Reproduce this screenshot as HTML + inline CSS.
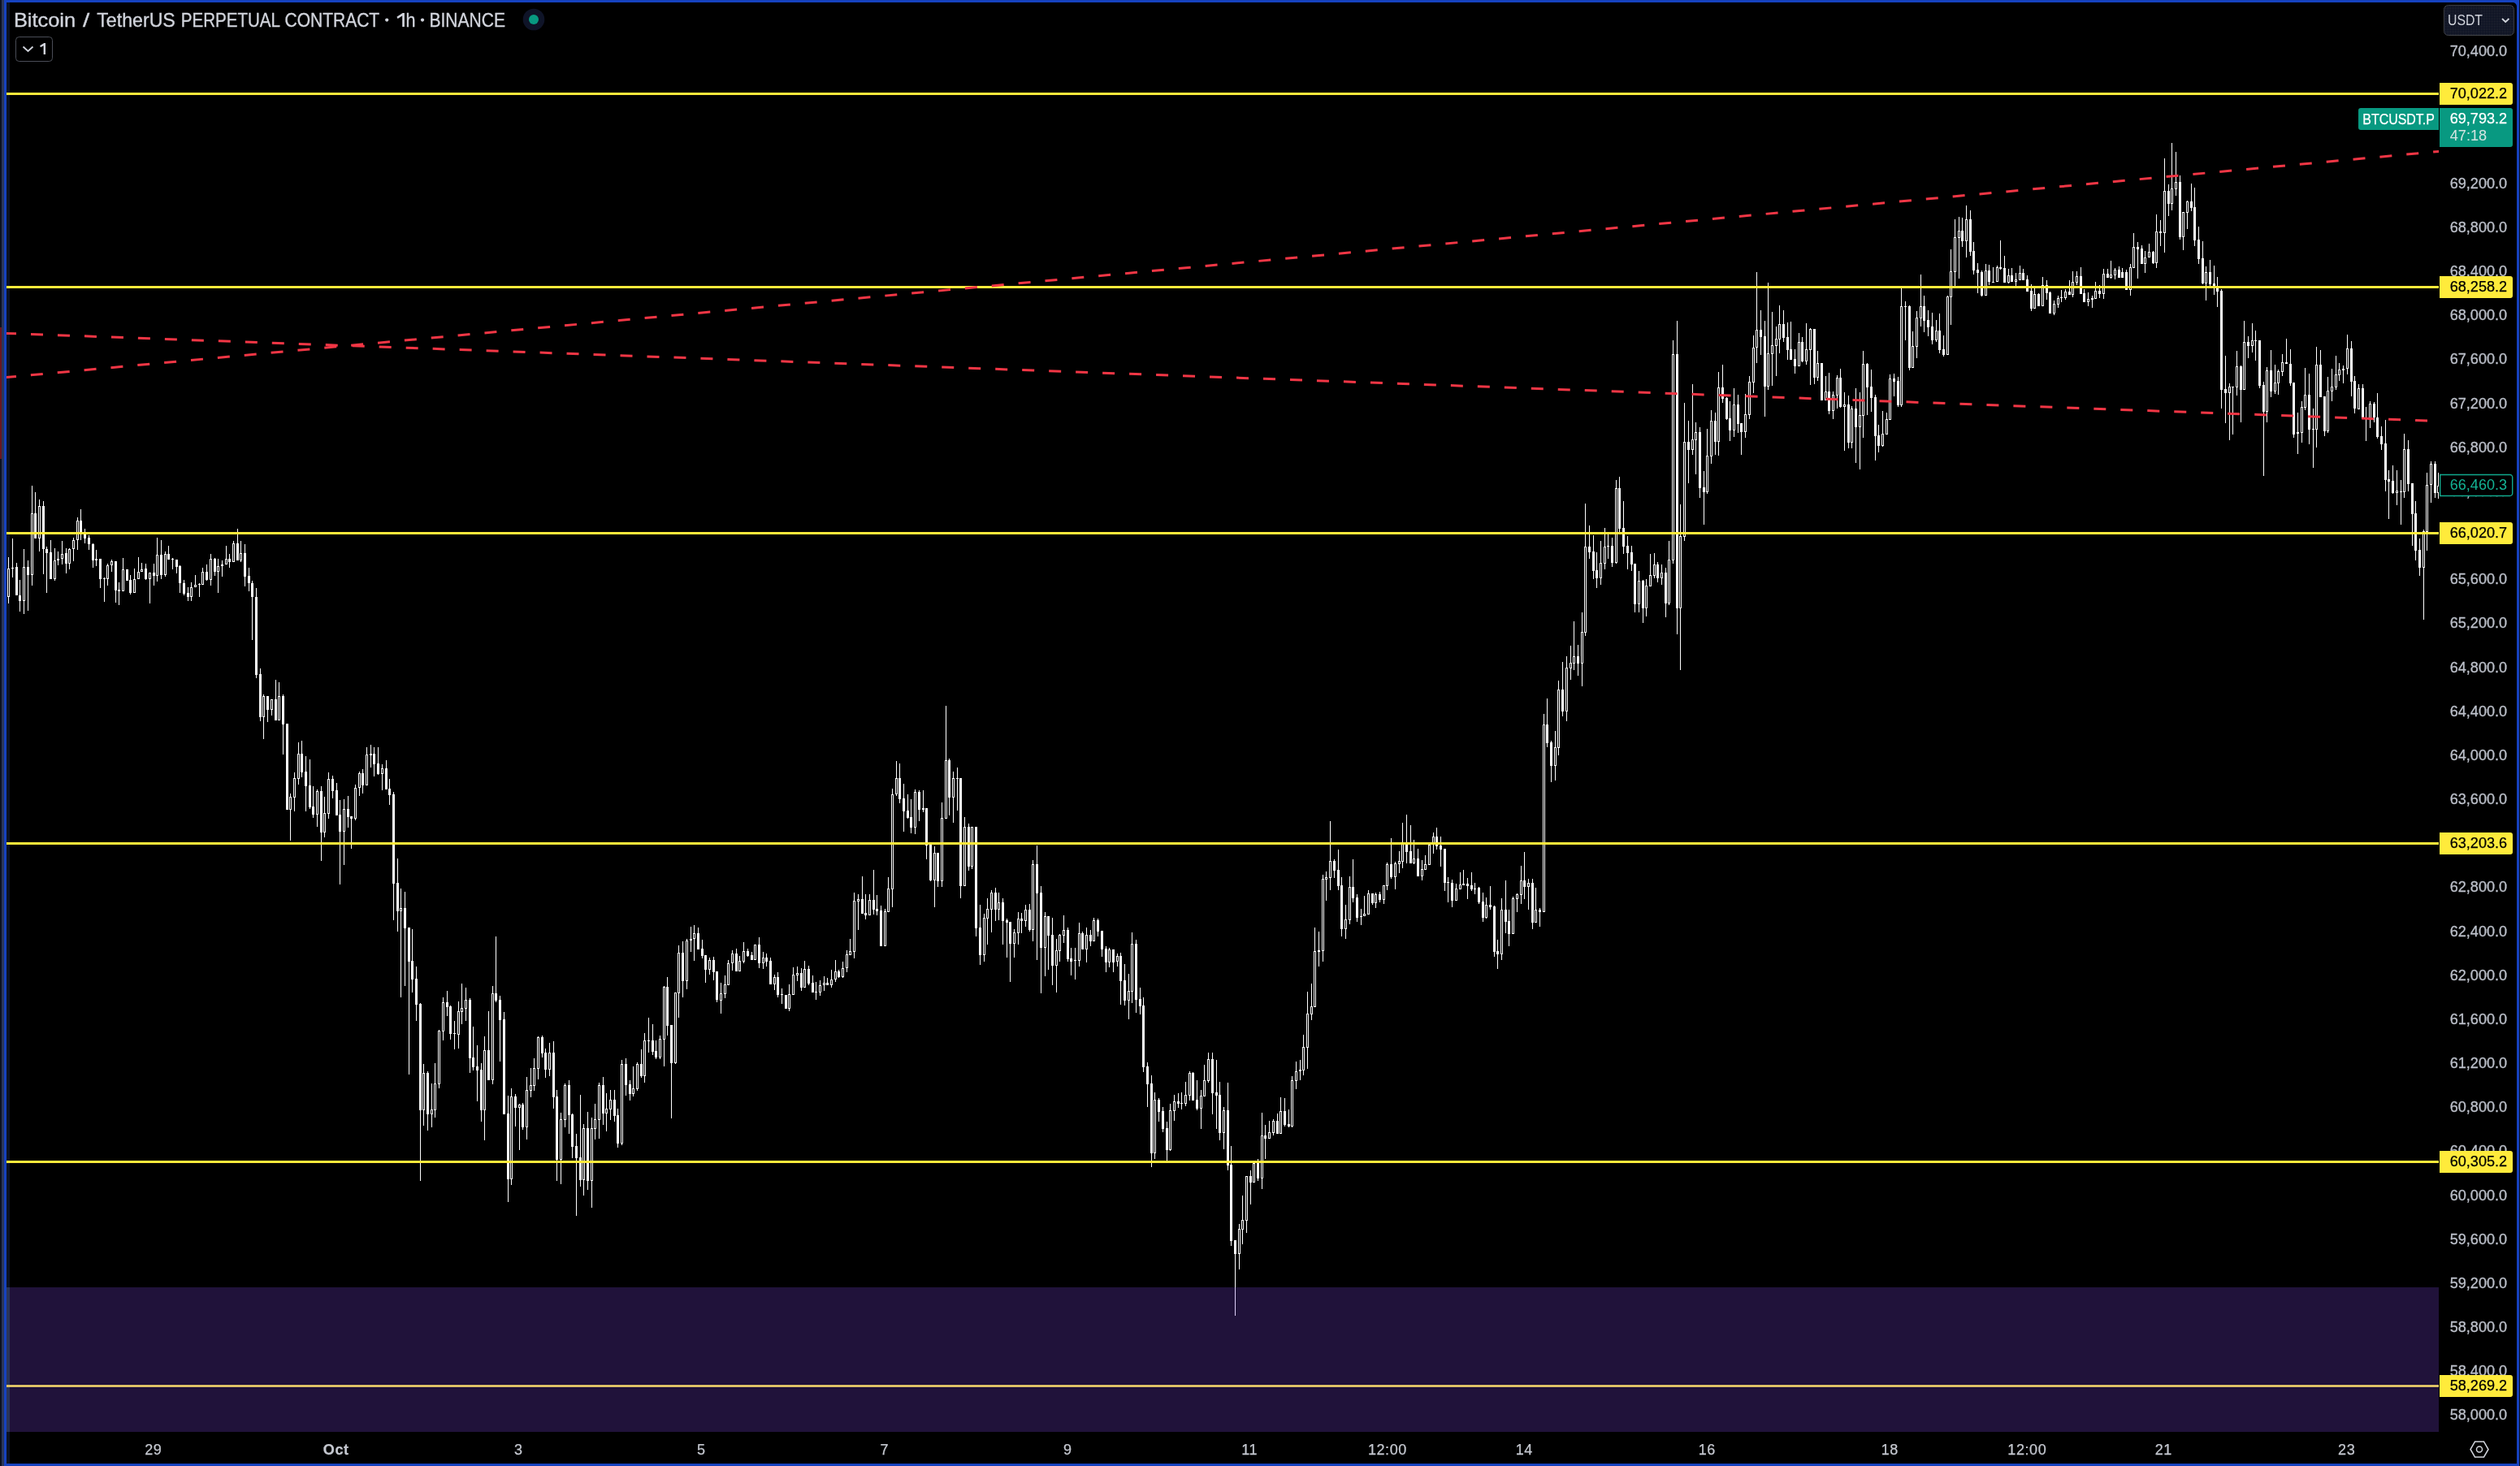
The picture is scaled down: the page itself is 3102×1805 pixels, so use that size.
<!DOCTYPE html><html><head><meta charset="utf-8"><title>BTCUSDT.P</title><style>html,body{margin:0;padding:0;background:#000}body{width:3102px;height:1805px;position:relative;overflow:hidden;font-family:"Liberation Sans",sans-serif}</style></head><body><svg width="3102" height="1805" viewBox="0 0 3102 1805" style="position:absolute;left:0;top:0;will-change:transform" font-family="Liberation Sans, sans-serif"><rect x="8" y="3" width="4" height="1799" fill="#0c1221" shape-rendering="crispEdges"/><g shape-rendering="crispEdges" clip-path="url(#cp)"><path d="M10 686h1v57h-1zM15 663h1v48h-1zM20 693h1v40h-1zM24 714h1v39h-1zM29 676h1v80h-1zM34 690h1v62h-1zM39 598h1v123h-1zM43 606h1v57h-1zM48 615h1v64h-1zM53 617h1v90h-1zM57 673h1v57h-1zM62 665h1v48h-1zM67 675h1v40h-1zM71 679h1v17h-1zM76 666h1v29h-1zM81 675h1v31h-1zM85 675h1v26h-1zM90 662h1v29h-1zM95 637h1v40h-1zM99 627h1v38h-1zM104 651h1v18h-1zM109 659h1v18h-1zM114 669h1v30h-1zM118 677h1v20h-1zM123 688h1v36h-1zM128 711h1v30h-1zM132 694h1v27h-1zM137 689h1v15h-1zM142 691h1v51h-1zM146 717h1v28h-1zM151 687h1v41h-1zM156 701h1v14h-1zM160 708h1v24h-1zM165 700h1v30h-1zM170 686h1v27h-1zM174 693h1v11h-1zM179 694h1v20h-1zM184 705h1v38h-1zM189 694h1v27h-1zM193 662h1v54h-1zM198 665h1v48h-1zM203 679h1v31h-1zM207 672h1v17h-1zM212 687h1v14h-1zM217 689h1v17h-1zM221 696h1v34h-1zM226 714h1v19h-1zM231 723h1v17h-1zM235 717h1v23h-1zM240 708h1v15h-1zM245 718h1v17h-1zM249 699h1v21h-1zM254 695h1v20h-1zM259 682h1v39h-1zM264 687h1v22h-1zM268 688h1v42h-1zM273 690h1v20h-1zM278 672h1v23h-1zM282 682h1v17h-1zM287 666h1v26h-1zM292 651h1v39h-1zM296 666h1v26h-1zM301 670h1v52h-1zM306 699h1v29h-1zM310 715h1v73h-1zM315 724h1v111h-1zM320 823h1v65h-1zM324 855h1v55h-1zM329 857h1v32h-1zM334 861h1v20h-1zM339 837h1v50h-1zM343 840h1v47h-1zM348 855h1v74h-1zM353 891h1v106h-1zM357 977h1v58h-1zM362 951h1v48h-1zM367 914h1v52h-1zM371 912h1v45h-1zM376 931h1v68h-1zM381 935h1v61h-1zM385 968h1v39h-1zM390 972h1v46h-1zM395 968h1v92h-1zM399 981h1v50h-1zM404 951h1v57h-1zM409 955h1v28h-1zM414 964h1v40h-1zM418 985h1v104h-1zM423 984h1v81h-1zM428 980h1v39h-1zM432 1005h1v40h-1zM437 966h1v44h-1zM442 950h1v30h-1zM446 947h1v30h-1zM451 920h1v47h-1zM456 917h1v28h-1zM460 920h1v36h-1zM465 920h1v34h-1zM470 941h1v32h-1zM475 936h1v36h-1zM479 959h1v32h-1zM484 975h1v158h-1zM489 1057h1v90h-1zM493 1094h1v134h-1zM498 1098h1v116h-1zM503 1142h1v181h-1zM507 1144h1v78h-1zM512 1190h1v67h-1zM517 1235h1v219h-1zM521 1310h1v76h-1zM526 1319h1v73h-1zM531 1334h1v54h-1zM535 1309h1v67h-1zM540 1268h1v72h-1zM545 1228h1v53h-1zM550 1220h1v31h-1zM554 1238h1v42h-1zM559 1257h1v35h-1zM564 1233h1v58h-1zM568 1211h1v50h-1zM573 1216h1v41h-1zM578 1229h1v92h-1zM582 1264h1v54h-1zM587 1287h1v69h-1zM592 1309h1v72h-1zM596 1276h1v128h-1zM601 1245h1v85h-1zM606 1214h1v121h-1zM610 1153h1v81h-1zM615 1226h1v81h-1zM620 1246h1v126h-1zM625 1349h1v131h-1zM629 1340h1v119h-1zM634 1347h1v40h-1zM639 1359h1v57h-1zM643 1358h1v33h-1zM648 1326h1v77h-1zM653 1315h1v36h-1zM657 1303h1v40h-1zM662 1276h1v53h-1zM667 1275h1v27h-1zM671 1291h1v36h-1zM676 1284h1v41h-1zM681 1282h1v83h-1zM685 1342h1v112h-1zM690 1370h1v88h-1zM695 1334h1v54h-1zM700 1330h1v66h-1zM704 1371h1v55h-1zM709 1396h1v101h-1zM714 1348h1v113h-1zM718 1384h1v88h-1zM723 1369h1v96h-1zM728 1376h1v111h-1zM732 1359h1v44h-1zM737 1333h1v69h-1zM742 1326h1v59h-1zM746 1346h1v47h-1zM751 1342h1v37h-1zM756 1342h1v39h-1zM760 1365h1v48h-1zM765 1305h1v105h-1zM770 1303h1v46h-1zM775 1330h1v25h-1zM779 1313h1v37h-1zM784 1308h1v35h-1zM789 1292h1v35h-1zM793 1272h1v61h-1zM798 1253h1v43h-1zM803 1261h1v38h-1zM807 1281h1v23h-1zM812 1275h1v29h-1zM817 1214h1v99h-1zM821 1203h1v72h-1zM826 1262h1v115h-1zM831 1222h1v88h-1zM835 1164h1v89h-1zM840 1159h1v69h-1zM845 1156h1v62h-1zM850 1141h1v31h-1zM854 1139h1v44h-1zM859 1142h1v27h-1zM864 1157h1v23h-1zM868 1176h1v34h-1zM873 1179h1v21h-1zM878 1178h1v29h-1zM882 1196h1v38h-1zM887 1210h1v38h-1zM892 1201h1v28h-1zM896 1182h1v31h-1zM901 1170h1v25h-1zM906 1168h1v28h-1zM910 1177h1v19h-1zM915 1160h1v26h-1zM920 1168h1v10h-1zM925 1172h1v10h-1zM929 1163h1v19h-1zM934 1154h1v38h-1zM939 1172h1v21h-1zM943 1174h1v16h-1zM948 1179h1v33h-1zM953 1200h1v19h-1zM957 1197h1v31h-1zM962 1217h1v19h-1zM967 1225h1v17h-1zM971 1212h1v33h-1zM976 1191h1v34h-1zM981 1190h1v18h-1zM986 1192h1v28h-1zM990 1183h1v33h-1zM995 1189h1v24h-1zM1000 1201h1v21h-1zM1004 1209h1v22h-1zM1009 1207h1v19h-1zM1014 1202h1v18h-1zM1018 1204h1v9h-1zM1023 1194h1v22h-1zM1028 1182h1v27h-1zM1032 1194h1v10h-1zM1037 1184h1v20h-1zM1042 1170h1v27h-1zM1046 1156h1v20h-1zM1051 1099h1v81h-1zM1056 1101h1v44h-1zM1061 1079h1v46h-1zM1065 1101h1v31h-1zM1070 1101h1v26h-1zM1075 1071h1v55h-1zM1079 1102h1v25h-1zM1084 1115h1v50h-1zM1089 1119h1v46h-1zM1093 1080h1v43h-1zM1098 971h1v146h-1zM1103 937h1v43h-1zM1107 940h1v49h-1zM1112 965h1v59h-1zM1117 978h1v30h-1zM1121 984h1v42h-1zM1126 972h1v55h-1zM1131 973h1v38h-1zM1136 973h1v27h-1zM1140 995h1v63h-1zM1145 1040h1v45h-1zM1150 1042h1v75h-1zM1154 1050h1v42h-1zM1159 988h1v104h-1zM1164 869h1v139h-1zM1168 934h1v70h-1zM1173 950h1v63h-1zM1178 945h1v53h-1zM1182 958h1v148h-1zM1187 1006h1v85h-1zM1192 1014h1v58h-1zM1196 1018h1v52h-1zM1201 1018h1v135h-1zM1206 1114h1v74h-1zM1211 1125h1v59h-1zM1215 1106h1v57h-1zM1220 1096h1v52h-1zM1225 1093h1v41h-1zM1229 1099h1v34h-1zM1234 1106h1v57h-1zM1239 1131h1v48h-1zM1243 1135h1v74h-1zM1248 1144h1v35h-1zM1253 1123h1v40h-1zM1257 1124h1v25h-1zM1262 1114h1v27h-1zM1267 1113h1v34h-1zM1271 1059h1v100h-1zM1276 1041h1v141h-1zM1281 1091h1v132h-1zM1286 1123h1v79h-1zM1290 1128h1v66h-1zM1295 1130h1v83h-1zM1300 1156h1v66h-1zM1304 1150h1v34h-1zM1309 1127h1v34h-1zM1314 1142h1v42h-1zM1318 1167h1v34h-1zM1323 1167h1v39h-1zM1328 1136h1v54h-1zM1332 1147h1v22h-1zM1337 1142h1v43h-1zM1342 1145h1v20h-1zM1346 1130h1v29h-1zM1351 1131h1v22h-1zM1356 1146h1v32h-1zM1361 1165h1v32h-1zM1365 1167h1v24h-1zM1370 1169h1v28h-1zM1375 1174h1v16h-1zM1379 1173h1v64h-1zM1384 1187h1v51h-1zM1389 1199h1v56h-1zM1393 1148h1v87h-1zM1398 1157h1v90h-1zM1403 1216h1v33h-1zM1407 1228h1v92h-1zM1412 1308h1v55h-1zM1417 1324h1v113h-1zM1421 1345h1v82h-1zM1426 1352h1v29h-1zM1431 1363h1v31h-1zM1436 1381h1v48h-1zM1440 1359h1v58h-1zM1445 1348h1v32h-1zM1450 1346h1v18h-1zM1454 1345h1v21h-1zM1459 1332h1v30h-1zM1464 1319h1v36h-1zM1468 1320h1v35h-1zM1473 1330h1v37h-1zM1478 1342h1v48h-1zM1482 1311h1v39h-1zM1487 1296h1v37h-1zM1492 1296h1v76h-1zM1497 1305h1v85h-1zM1501 1332h1v72h-1zM1506 1363h1v52h-1zM1511 1333h1v108h-1zM1515 1411h1v123h-1zM1520 1527h1v93h-1zM1525 1507h1v56h-1zM1529 1472h1v60h-1zM1534 1448h1v70h-1zM1539 1441h1v42h-1zM1543 1432h1v24h-1zM1548 1427h1v27h-1zM1553 1370h1v94h-1zM1557 1385h1v42h-1zM1562 1380h1v22h-1zM1567 1378h1v20h-1zM1572 1371h1v25h-1zM1576 1351h1v45h-1zM1581 1352h1v35h-1zM1586 1366h1v22h-1zM1590 1325h1v63h-1zM1595 1307h1v34h-1zM1600 1305h1v25h-1zM1604 1274h1v50h-1zM1609 1221h1v95h-1zM1614 1211h1v45h-1zM1618 1142h1v98h-1zM1623 1147h1v43h-1zM1628 1077h1v107h-1zM1632 1073h1v36h-1zM1637 1011h1v85h-1zM1642 1058h1v23h-1zM1647 1046h1v50h-1zM1651 1080h1v73h-1zM1656 1114h1v42h-1zM1661 1079h1v59h-1zM1665 1058h1v53h-1zM1670 1101h1v34h-1zM1675 1119h1v20h-1zM1679 1103h1v25h-1zM1684 1096h1v30h-1zM1689 1100h1v14h-1zM1693 1099h1v19h-1zM1698 1098h1v13h-1zM1703 1090h1v23h-1zM1707 1062h1v34h-1zM1712 1032h1v50h-1zM1717 1061h1v34h-1zM1722 1048h1v27h-1zM1726 1013h1v56h-1zM1731 1003h1v60h-1zM1736 1016h1v47h-1zM1740 1034h1v30h-1zM1745 1045h1v34h-1zM1750 1059h1v25h-1zM1754 1053h1v18h-1zM1759 1040h1v25h-1zM1764 1025h1v26h-1zM1768 1019h1v27h-1zM1773 1030h1v37h-1zM1778 1045h1v52h-1zM1782 1080h1v31h-1zM1787 1083h1v34h-1zM1792 1088h1v21h-1zM1797 1074h1v21h-1zM1801 1071h1v19h-1zM1806 1081h1v26h-1zM1811 1074h1v23h-1zM1815 1087h1v14h-1zM1820 1092h1v21h-1zM1825 1099h1v36h-1zM1829 1105h1v26h-1zM1834 1091h1v29h-1zM1839 1115h1v63h-1zM1843 1157h1v36h-1zM1848 1106h1v76h-1zM1853 1084h1v65h-1zM1857 1120h1v45h-1zM1862 1104h1v46h-1zM1867 1100h1v23h-1zM1872 1066h1v47h-1zM1876 1049h1v58h-1zM1881 1082h1v38h-1zM1886 1082h1v62h-1zM1890 1093h1v43h-1zM1895 1118h1v23h-1zM1900 879h1v244h-1zM1904 860h1v60h-1zM1909 912h1v51h-1zM1914 900h1v61h-1zM1918 838h1v92h-1zM1923 815h1v67h-1zM1928 808h1v80h-1zM1933 795h1v42h-1zM1937 765h1v60h-1zM1942 794h1v38h-1zM1947 754h1v91h-1zM1951 620h1v163h-1zM1956 647h1v41h-1zM1961 659h1v54h-1zM1965 680h1v44h-1zM1970 666h1v54h-1zM1975 650h1v51h-1zM1979 658h1v30h-1zM1984 662h1v36h-1zM1989 591h1v103h-1zM1993 587h1v68h-1zM1998 617h1v65h-1zM2003 660h1v41h-1zM2008 672h1v31h-1zM2012 694h1v60h-1zM2017 703h1v51h-1zM2022 714h1v53h-1zM2026 713h1v46h-1zM2031 682h1v40h-1zM2036 681h1v31h-1zM2040 692h1v25h-1zM2045 695h1v25h-1zM2050 699h1v61h-1zM2054 666h1v79h-1zM2059 419h1v275h-1zM2064 395h1v386h-1zM2068 621h1v204h-1zM2073 496h1v170h-1zM2078 518h1v77h-1zM2083 473h1v87h-1zM2087 520h1v64h-1zM2092 526h1v87h-1zM2097 580h1v66h-1zM2101 528h1v80h-1zM2106 505h1v66h-1zM2111 508h1v52h-1zM2115 458h1v103h-1zM2120 449h1v47h-1zM2125 489h1v28h-1zM2129 494h1v49h-1zM2134 478h1v60h-1zM2139 486h1v47h-1zM2143 521h1v39h-1zM2148 485h1v54h-1zM2153 463h1v53h-1zM2158 413h1v71h-1zM2162 335h1v112h-1zM2167 382h1v55h-1zM2172 395h1v118h-1zM2176 348h1v132h-1zM2181 384h1v91h-1zM2186 402h1v61h-1zM2190 376h1v59h-1zM2195 382h1v39h-1zM2200 397h1v46h-1zM2204 396h1v47h-1zM2209 430h1v30h-1zM2214 410h1v41h-1zM2218 415h1v31h-1zM2223 398h1v51h-1zM2228 404h1v70h-1zM2233 405h1v68h-1zM2237 432h1v37h-1zM2242 447h1v46h-1zM2247 463h1v30h-1zM2251 459h1v51h-1zM2256 482h1v34h-1zM2261 462h1v41h-1zM2265 454h1v48h-1zM2270 483h1v72h-1zM2275 487h1v65h-1zM2279 500h1v52h-1zM2284 478h1v92h-1zM2289 483h1v95h-1zM2293 432h1v107h-1zM2298 447h1v64h-1zM2303 455h1v52h-1zM2308 486h1v81h-1zM2312 523h1v34h-1zM2317 506h1v44h-1zM2322 508h1v27h-1zM2326 461h1v56h-1zM2331 460h1v28h-1zM2336 464h1v37h-1zM2340 355h1v146h-1zM2345 371h1v48h-1zM2350 376h1v80h-1zM2354 408h1v45h-1zM2359 383h1v58h-1zM2364 338h1v64h-1zM2368 364h1v45h-1zM2373 382h1v32h-1zM2378 385h1v39h-1zM2383 394h1v27h-1zM2387 386h1v49h-1zM2392 413h1v26h-1zM2397 364h1v73h-1zM2401 307h1v93h-1zM2406 270h1v82h-1zM2411 267h1v76h-1zM2415 268h1v36h-1zM2420 253h1v64h-1zM2425 259h1v56h-1zM2429 298h1v40h-1zM2434 324h1v37h-1zM2439 333h1v32h-1zM2444 325h1v39h-1zM2448 326h1v25h-1zM2453 329h1v19h-1zM2458 327h1v20h-1zM2462 296h1v36h-1zM2467 315h1v33h-1zM2472 331h1v18h-1zM2476 330h1v17h-1zM2481 336h1v17h-1zM2486 327h1v18h-1zM2490 331h1v14h-1zM2495 339h1v20h-1zM2500 350h1v33h-1zM2504 355h1v25h-1zM2509 361h1v16h-1zM2514 341h1v36h-1zM2519 345h1v24h-1zM2523 359h1v27h-1zM2528 370h1v18h-1zM2533 364h1v15h-1zM2537 357h1v15h-1zM2542 356h1v13h-1zM2547 345h1v18h-1zM2551 334h1v32h-1zM2556 334h1v17h-1zM2561 329h1v33h-1zM2565 356h1v16h-1zM2570 360h1v17h-1zM2575 364h1v15h-1zM2579 347h1v21h-1zM2584 351h1v16h-1zM2589 331h1v37h-1zM2594 331h1v11h-1zM2598 321h1v22h-1zM2603 330h1v14h-1zM2608 328h1v14h-1zM2612 330h1v12h-1zM2617 332h1v25h-1zM2622 325h1v39h-1zM2626 287h1v43h-1zM2631 298h1v45h-1zM2636 302h1v23h-1zM2640 309h1v27h-1zM2645 300h1v17h-1zM2650 309h1v16h-1zM2654 264h1v66h-1zM2659 271h1v32h-1zM2664 195h1v116h-1zM2669 227h1v39h-1zM2673 176h1v83h-1zM2678 187h1v54h-1zM2683 216h1v79h-1zM2687 261h1v47h-1zM2692 247h1v35h-1zM2697 226h1v34h-1zM2701 231h1v72h-1zM2706 279h1v46h-1zM2711 297h1v53h-1zM2715 328h1v42h-1zM2720 320h1v32h-1zM2725 327h1v36h-1zM2729 341h1v37h-1zM2734 356h1v147h-1zM2739 438h1v83h-1zM2744 472h1v70h-1zM2748 476h1v59h-1zM2753 432h1v55h-1zM2758 450h1v70h-1zM2762 395h1v85h-1zM2767 414h1v27h-1zM2772 398h1v36h-1zM2776 407h1v37h-1zM2781 419h1v59h-1zM2786 470h1v116h-1zM2790 452h1v68h-1zM2795 431h1v58h-1zM2800 449h1v36h-1zM2804 455h1v31h-1zM2809 436h1v27h-1zM2814 417h1v31h-1zM2819 430h1v45h-1zM2823 471h1v68h-1zM2828 508h1v51h-1zM2833 494h1v51h-1zM2837 453h1v52h-1zM2842 460h1v87h-1zM2847 503h1v73h-1zM2851 427h1v124h-1zM2856 431h1v58h-1zM2861 488h1v49h-1zM2865 464h1v69h-1zM2870 454h1v40h-1zM2875 438h1v42h-1zM2879 447h1v22h-1zM2884 450h1v22h-1zM2889 412h1v49h-1zM2894 420h1v68h-1zM2898 463h1v46h-1zM2903 473h1v31h-1zM2908 473h1v43h-1zM2912 501h1v42h-1zM2917 494h1v33h-1zM2922 495h1v25h-1zM2926 484h1v56h-1zM2931 525h1v29h-1zM2936 517h1v88h-1zM2940 579h1v60h-1zM2945 573h1v35h-1zM2950 579h1v43h-1zM2955 591h1v55h-1zM2959 534h1v79h-1zM2964 542h1v63h-1zM2969 595h1v77h-1zM2973 617h1v73h-1zM2978 663h1v46h-1zM2983 652h1v111h-1zM2987 582h1v96h-1zM2992 568h1v51h-1zM2997 568h1v45h-1zM3001 582h1v32h-1zM9 700h3v35h-3zM14 699h3v1h-3zM19 698h3v35h-3zM23 733h3v7h-3zM28 698h3v42h-3zM33 698h3v10h-3zM38 632h3v76h-3zM42 632h3v31h-3zM47 623h3v40h-3zM52 623h3v53h-3zM56 676h3v5h-3zM61 680h3v33h-3zM66 690h3v23h-3zM70 688h3v2h-3zM75 682h3v6h-3zM80 681h3v13h-3zM84 676h3v18h-3zM89 665h3v11h-3zM94 641h3v24h-3zM98 641h3v14h-3zM103 655h3v8h-3zM108 662h3v8h-3zM113 670h3v20h-3zM117 688h3v2h-3zM122 688h3v25h-3zM127 712h3v1h-3zM131 696h3v17h-3zM136 691h3v5h-3zM141 691h3v36h-3zM145 726h3v2h-3zM150 701h3v27h-3zM155 701h3v14h-3zM159 714h3v16h-3zM164 713h3v17h-3zM169 704h3v9h-3zM173 701h3v3h-3zM178 700h3v13h-3zM183 705h3v8h-3zM188 705h3v4h-3zM192 683h3v26h-3zM197 683h3v25h-3zM202 682h3v26h-3zM206 682h3v7h-3zM211 688h3v1h-3zM216 689h3v9h-3zM220 697h3v21h-3zM225 718h3v13h-3zM230 730h3v5h-3zM234 723h3v12h-3zM239 720h3v3h-3zM244 719h3v1h-3zM248 704h3v16h-3zM253 704h3v10h-3zM258 688h3v26h-3zM263 688h3v16h-3zM267 697h3v7h-3zM272 695h3v2h-3zM277 688h3v7h-3zM281 688h3v4h-3zM286 669h3v23h-3zM291 669h3v21h-3zM295 681h3v9h-3zM300 681h3v29h-3zM305 709h3v9h-3zM309 718h3v17h-3zM314 735h3v96h-3zM319 830h3v53h-3zM323 857h3v26h-3zM328 857h3v17h-3zM333 861h3v13h-3zM338 861h3v26h-3zM342 857h3v30h-3zM347 857h3v35h-3zM352 891h3v106h-3zM356 981h3v16h-3zM361 958h3v24h-3zM366 928h3v31h-3zM370 928h3v23h-3zM375 950h3v18h-3zM380 967h3v27h-3zM384 993h3v10h-3zM389 974h3v29h-3zM394 974h3v51h-3zM398 1001h3v24h-3zM403 959h3v43h-3zM408 959h3v15h-3zM413 973h3v31h-3zM417 1003h3v21h-3zM422 996h3v28h-3zM427 996h3v10h-3zM431 1005h3v3h-3zM436 970h3v38h-3zM441 952h3v18h-3zM445 952h3v15h-3zM450 929h3v38h-3zM455 928h3v2h-3zM459 928h3v13h-3zM464 940h3v13h-3zM469 946h3v7h-3zM474 946h3v26h-3zM478 971h3v8h-3zM483 978h3v110h-3zM488 1087h3v35h-3zM492 1118h3v4h-3zM497 1118h3v25h-3zM502 1142h3v42h-3zM506 1183h3v23h-3zM511 1205h3v32h-3zM516 1236h3v131h-3zM520 1321h3v46h-3zM525 1321h3v51h-3zM530 1366h3v6h-3zM534 1334h3v33h-3zM539 1269h3v66h-3zM544 1234h3v36h-3zM549 1234h3v6h-3zM553 1239h3v34h-3zM558 1272h3v1h-3zM563 1245h3v29h-3zM567 1241h3v5h-3zM572 1231h3v11h-3zM577 1231h3v72h-3zM581 1302h3v12h-3zM586 1313h3v5h-3zM591 1317h3v50h-3zM595 1293h3v74h-3zM600 1293h3v37h-3zM605 1223h3v107h-3zM609 1223h3v9h-3zM614 1231h3v25h-3zM619 1255h3v117h-3zM624 1371h3v81h-3zM628 1350h3v102h-3zM633 1350h3v14h-3zM638 1360h3v4h-3zM642 1360h3v28h-3zM647 1342h3v46h-3zM652 1336h3v7h-3zM656 1315h3v22h-3zM661 1277h3v39h-3zM666 1277h3v20h-3zM670 1296h3v21h-3zM675 1296h3v21h-3zM680 1296h3v55h-3zM684 1350h3v78h-3zM689 1378h3v50h-3zM694 1336h3v43h-3zM699 1336h3v37h-3zM703 1372h3v40h-3zM708 1411h3v15h-3zM713 1425h3v28h-3zM717 1389h3v64h-3zM722 1389h3v65h-3zM727 1389h3v65h-3zM731 1378h3v12h-3zM736 1336h3v43h-3zM741 1336h3v35h-3zM745 1365h3v6h-3zM750 1354h3v12h-3zM755 1354h3v20h-3zM759 1373h3v35h-3zM764 1310h3v98h-3zM769 1310h3v26h-3zM774 1335h3v12h-3zM778 1340h3v7h-3zM783 1310h3v31h-3zM788 1310h3v15h-3zM792 1281h3v44h-3zM797 1281h3v1h-3zM802 1281h3v14h-3zM806 1294h3v8h-3zM811 1279h3v23h-3zM816 1215h3v65h-3zM820 1215h3v48h-3zM825 1262h3v47h-3zM830 1222h3v87h-3zM834 1173h3v50h-3zM839 1173h3v35h-3zM844 1158h3v50h-3zM849 1156h3v2h-3zM853 1149h3v7h-3zM858 1149h3v20h-3zM863 1168h3v9h-3zM867 1176h3v18h-3zM872 1182h3v12h-3zM877 1182h3v15h-3zM881 1196h3v35h-3zM886 1223h3v9h-3zM891 1212h3v12h-3zM895 1186h3v27h-3zM900 1174h3v12h-3zM905 1174h3v22h-3zM909 1183h3v13h-3zM914 1171h3v13h-3zM919 1171h3v6h-3zM924 1176h3v6h-3zM928 1163h3v19h-3zM933 1163h3v23h-3zM938 1179h3v7h-3zM942 1179h3v5h-3zM947 1183h3v29h-3zM952 1203h3v9h-3zM956 1203h3v22h-3zM961 1224h3v1h-3zM966 1225h3v17h-3zM970 1224h3v18h-3zM975 1200h3v25h-3zM980 1198h3v3h-3zM985 1198h3v18h-3zM989 1193h3v23h-3zM994 1193h3v18h-3zM999 1210h3v12h-3zM1003 1221h3v1h-3zM1008 1213h3v9h-3zM1013 1210h3v3h-3zM1017 1210h3v3h-3zM1022 1206h3v7h-3zM1027 1196h3v10h-3zM1031 1196h3v7h-3zM1036 1192h3v11h-3zM1041 1175h3v17h-3zM1045 1171h3v5h-3zM1050 1109h3v63h-3zM1055 1107h3v3h-3zM1060 1107h3v18h-3zM1064 1124h3v3h-3zM1069 1108h3v19h-3zM1074 1108h3v12h-3zM1078 1119h3v3h-3zM1083 1121h3v44h-3zM1088 1122h3v43h-3zM1092 1094h3v29h-3zM1097 978h3v117h-3zM1102 958h3v20h-3zM1106 958h3v26h-3zM1111 983h3v16h-3zM1116 998h3v9h-3zM1120 1006h3v13h-3zM1125 975h3v44h-3zM1130 975h3v22h-3zM1135 995h3v2h-3zM1139 995h3v46h-3zM1144 1040h3v44h-3zM1149 1050h3v34h-3zM1153 1050h3v35h-3zM1158 1007h3v78h-3zM1163 936h3v72h-3zM1167 936h3v46h-3zM1172 958h3v24h-3zM1177 958h3v1h-3zM1181 958h3v133h-3zM1186 1018h3v73h-3zM1191 1018h3v49h-3zM1195 1018h3v49h-3zM1200 1018h3v125h-3zM1205 1142h3v34h-3zM1210 1130h3v46h-3zM1214 1119h3v12h-3zM1219 1099h3v21h-3zM1224 1099h3v21h-3zM1228 1111h3v9h-3zM1233 1111h3v23h-3zM1238 1133h3v3h-3zM1242 1135h3v27h-3zM1247 1148h3v14h-3zM1252 1131h3v18h-3zM1256 1131h3v3h-3zM1261 1120h3v14h-3zM1266 1120h3v25h-3zM1270 1064h3v81h-3zM1275 1064h3v36h-3zM1280 1099h3v68h-3zM1285 1128h3v39h-3zM1289 1128h3v24h-3zM1294 1151h3v38h-3zM1299 1170h3v19h-3zM1303 1151h3v20h-3zM1308 1145h3v7h-3zM1313 1145h3v36h-3zM1317 1180h3v4h-3zM1322 1182h3v1h-3zM1327 1149h3v34h-3zM1331 1149h3v20h-3zM1336 1151h3v18h-3zM1341 1151h3v8h-3zM1345 1133h3v26h-3zM1350 1133h3v14h-3zM1355 1146h3v23h-3zM1360 1168h3v17h-3zM1364 1169h3v16h-3zM1369 1169h3v16h-3zM1374 1177h3v7h-3zM1378 1177h3v31h-3zM1383 1207h3v25h-3zM1388 1220h3v12h-3zM1392 1162h3v59h-3zM1397 1162h3v69h-3zM1402 1230h3v9h-3zM1406 1238h3v76h-3zM1411 1313h3v22h-3zM1416 1334h3v86h-3zM1420 1354h3v66h-3zM1425 1354h3v15h-3zM1430 1368h3v22h-3zM1435 1389h3v27h-3zM1439 1367h3v49h-3zM1444 1356h3v12h-3zM1449 1356h3v3h-3zM1453 1358h3v1h-3zM1458 1348h3v11h-3zM1463 1321h3v28h-3zM1467 1321h3v34h-3zM1472 1354h3v11h-3zM1477 1349h3v16h-3zM1481 1330h3v20h-3zM1486 1304h3v27h-3zM1491 1304h3v42h-3zM1496 1345h3v4h-3zM1500 1348h3v47h-3zM1505 1367h3v28h-3zM1510 1367h3v68h-3zM1514 1434h3v94h-3zM1519 1527h3v17h-3zM1524 1513h3v31h-3zM1528 1502h3v12h-3zM1533 1448h3v55h-3zM1538 1448h3v8h-3zM1542 1432h3v24h-3zM1547 1432h3v19h-3zM1552 1398h3v53h-3zM1556 1398h3v4h-3zM1561 1394h3v8h-3zM1566 1380h3v15h-3zM1571 1380h3v16h-3zM1575 1368h3v28h-3zM1580 1368h3v17h-3zM1585 1384h3v3h-3zM1589 1330h3v57h-3zM1594 1319h3v12h-3zM1599 1317h3v2h-3zM1603 1289h3v29h-3zM1608 1248h3v42h-3zM1613 1239h3v10h-3zM1617 1171h3v69h-3zM1622 1170h3v2h-3zM1627 1082h3v89h-3zM1631 1080h3v3h-3zM1636 1060h3v21h-3zM1641 1060h3v12h-3zM1646 1071h3v20h-3zM1650 1090h3v54h-3zM1655 1132h3v12h-3zM1660 1092h3v41h-3zM1664 1092h3v14h-3zM1669 1105h3v25h-3zM1674 1128h3v1h-3zM1678 1125h3v3h-3zM1683 1100h3v26h-3zM1688 1100h3v12h-3zM1692 1101h3v11h-3zM1697 1101h3v7h-3zM1702 1090h3v18h-3zM1706 1064h3v27h-3zM1711 1064h3v16h-3zM1716 1063h3v17h-3zM1721 1060h3v4h-3zM1725 1039h3v22h-3zM1730 1039h3v10h-3zM1735 1048h3v15h-3zM1739 1057h3v6h-3zM1744 1057h3v22h-3zM1749 1070h3v9h-3zM1753 1064h3v7h-3zM1758 1040h3v25h-3zM1763 1030h3v10h-3zM1767 1030h3v12h-3zM1772 1041h3v5h-3zM1777 1045h3v42h-3zM1781 1086h3v1h-3zM1786 1087h3v22h-3zM1791 1094h3v15h-3zM1796 1089h3v6h-3zM1800 1088h3v2h-3zM1805 1088h3v3h-3zM1810 1090h3v5h-3zM1814 1094h3v1h-3zM1819 1093h3v18h-3zM1824 1110h3v20h-3zM1828 1114h3v16h-3zM1833 1114h3v3h-3zM1838 1116h3v56h-3zM1842 1171h3v4h-3zM1847 1120h3v55h-3zM1852 1120h3v15h-3zM1856 1134h3v16h-3zM1861 1106h3v44h-3zM1866 1101h3v6h-3zM1871 1084h3v18h-3zM1875 1084h3v8h-3zM1880 1087h3v5h-3zM1885 1087h3v49h-3zM1889 1120h3v16h-3zM1894 1120h3v3h-3zM1899 892h3v231h-3zM1903 892h3v23h-3zM1908 914h3v29h-3zM1913 920h3v23h-3zM1917 849h3v72h-3zM1922 849h3v27h-3zM1927 822h3v54h-3zM1932 816h3v7h-3zM1936 808h3v9h-3zM1941 808h3v9h-3zM1946 778h3v39h-3zM1950 673h3v106h-3zM1955 673h3v7h-3zM1960 679h3v24h-3zM1964 702h3v10h-3zM1969 693h3v19h-3zM1974 673h3v21h-3zM1978 672h3v1h-3zM1983 672h3v21h-3zM1988 601h3v92h-3zM1992 601h3v50h-3zM1997 650h3v23h-3zM2002 672h3v9h-3zM2007 680h3v15h-3zM2011 694h3v50h-3zM2016 715h3v29h-3zM2021 715h3v34h-3zM2025 721h3v28h-3zM2030 708h3v14h-3zM2035 695h3v14h-3zM2039 695h3v17h-3zM2044 705h3v7h-3zM2049 705h3v38h-3zM2053 689h3v54h-3zM2058 436h3v254h-3zM2063 436h3v313h-3zM2067 660h3v89h-3zM2072 544h3v117h-3zM2077 544h3v10h-3zM2082 541h3v13h-3zM2086 532h3v10h-3zM2091 532h3v69h-3zM2096 600h3v6h-3zM2100 561h3v45h-3zM2105 518h3v44h-3zM2110 518h3v26h-3zM2114 477h3v67h-3zM2119 477h3v14h-3zM2124 490h3v26h-3zM2128 515h3v15h-3zM2133 498h3v32h-3zM2138 498h3v24h-3zM2142 521h3v11h-3zM2147 510h3v22h-3zM2152 470h3v41h-3zM2157 428h3v43h-3zM2161 406h3v22h-3zM2166 406h3v9h-3zM2171 414h3v62h-3zM2175 435h3v41h-3zM2180 425h3v11h-3zM2185 417h3v9h-3zM2189 399h3v19h-3zM2194 399h3v17h-3zM2199 415h3v16h-3zM2203 430h3v13h-3zM2208 442h3v9h-3zM2213 421h3v30h-3zM2217 421h3v24h-3zM2222 430h3v15h-3zM2227 405h3v26h-3zM2232 405h3v60h-3zM2236 447h3v18h-3zM2241 447h3v46h-3zM2246 482h3v11h-3zM2250 482h3v24h-3zM2255 486h3v20h-3zM2260 465h3v22h-3zM2264 465h3v36h-3zM2269 498h3v3h-3zM2274 498h3v47h-3zM2278 503h3v42h-3zM2283 503h3v23h-3zM2288 511h3v15h-3zM2292 448h3v64h-3zM2297 448h3v29h-3zM2302 476h3v14h-3zM2307 489h3v48h-3zM2311 536h3v13h-3zM2316 534h3v15h-3zM2321 516h3v19h-3zM2325 466h3v51h-3zM2330 466h3v4h-3zM2335 469h3v30h-3zM2339 377h3v122h-3zM2344 377h3v1h-3zM2349 377h3v76h-3zM2353 426h3v27h-3zM2358 391h3v36h-3zM2363 377h3v15h-3zM2367 377h3v18h-3zM2372 394h3v9h-3zM2377 402h3v17h-3zM2382 407h3v12h-3zM2386 407h3v24h-3zM2391 430h3v7h-3zM2396 365h3v72h-3zM2400 334h3v32h-3zM2405 292h3v43h-3zM2410 284h3v9h-3zM2414 284h3v13h-3zM2419 270h3v27h-3zM2424 270h3v40h-3zM2428 309h3v24h-3zM2433 332h3v4h-3zM2438 335h3v29h-3zM2443 333h3v31h-3zM2447 333h3v14h-3zM2452 347h3v1h-3zM2457 329h3v18h-3zM2461 329h3v2h-3zM2466 330h3v18h-3zM2471 339h3v9h-3zM2475 339h3v8h-3zM2480 344h3v3h-3zM2485 336h3v9h-3zM2489 336h3v9h-3zM2494 344h3v15h-3zM2499 358h3v22h-3zM2503 362h3v18h-3zM2508 362h3v15h-3zM2513 351h3v26h-3zM2518 351h3v10h-3zM2522 360h3v26h-3zM2527 374h3v12h-3zM2532 367h3v8h-3zM2536 366h3v1h-3zM2541 359h3v8h-3zM2546 359h3v4h-3zM2550 347h3v16h-3zM2555 340h3v8h-3zM2560 340h3v22h-3zM2564 361h3v11h-3zM2569 368h3v4h-3zM2574 367h3v2h-3zM2578 358h3v10h-3zM2583 358h3v4h-3zM2588 337h3v25h-3zM2593 337h3v5h-3zM2597 338h3v4h-3zM2602 332h3v7h-3zM2607 332h3v10h-3zM2611 335h3v7h-3zM2616 335h3v22h-3zM2621 329h3v28h-3zM2625 304h3v26h-3zM2630 304h3v3h-3zM2635 306h3v19h-3zM2639 317h3v8h-3zM2644 310h3v7h-3zM2649 310h3v14h-3zM2653 285h3v39h-3zM2658 285h3v2h-3zM2663 235h3v52h-3zM2668 235h3v16h-3zM2672 232h3v19h-3zM2677 224h3v9h-3zM2682 224h3v68h-3zM2686 261h3v31h-3zM2691 248h3v14h-3zM2696 248h3v8h-3zM2700 255h3v41h-3zM2705 295h3v24h-3zM2710 318h3v31h-3zM2714 335h3v14h-3zM2719 335h3v15h-3zM2724 349h3v5h-3zM2728 353h3v6h-3zM2733 358h3v122h-3zM2738 479h3v5h-3zM2743 476h3v8h-3zM2747 476h3v1h-3zM2752 451h3v26h-3zM2757 451h3v29h-3zM2761 421h3v59h-3zM2766 421h3v5h-3zM2771 419h3v7h-3zM2775 419h3v1h-3zM2780 419h3v56h-3zM2785 474h3v33h-3zM2789 456h3v51h-3zM2794 456h3v26h-3zM2799 471h3v11h-3zM2803 457h3v15h-3zM2808 446h3v12h-3zM2813 446h3v2h-3zM2818 448h3v24h-3zM2822 471h3v64h-3zM2827 532h3v2h-3zM2832 501h3v32h-3zM2836 486h3v16h-3zM2841 486h3v43h-3zM2846 528h3v1h-3zM2850 449h3v80h-3zM2855 449h3v40h-3zM2860 488h3v43h-3zM2864 481h3v50h-3zM2869 476h3v6h-3zM2874 461h3v16h-3zM2878 455h3v7h-3zM2883 454h3v2h-3zM2888 429h3v25h-3zM2893 429h3v41h-3zM2897 469h3v34h-3zM2902 478h3v26h-3zM2907 478h3v38h-3zM2911 515h3v1h-3zM2916 497h3v19h-3zM2921 497h3v17h-3zM2925 514h3v24h-3zM2930 537h3v10h-3zM2935 546h3v45h-3zM2939 590h3v3h-3zM2944 592h3v15h-3zM2949 604h3v3h-3zM2954 605h3v1h-3zM2958 553h3v53h-3zM2963 553h3v43h-3zM2968 595h3v38h-3zM2972 632h3v46h-3zM2977 677h3v22h-3zM2982 654h3v45h-3zM2986 597h3v58h-3zM2991 571h3v26h-3zM2996 571h3v36h-3zM3000 598h3v9h-3z" fill="#fff"/><path d="M10 701h1v33h-1zM29 699h1v40h-1zM39 633h1v74h-1zM48 624h1v38h-1zM67 691h1v21h-1zM76 683h1v4h-1zM85 677h1v16h-1zM90 666h1v9h-1zM95 642h1v22h-1zM132 697h1v15h-1zM137 692h1v3h-1zM151 702h1v25h-1zM165 714h1v15h-1zM170 705h1v7h-1zM174 702h1v1h-1zM184 706h1v6h-1zM193 684h1v24h-1zM203 683h1v24h-1zM235 724h1v10h-1zM240 721h1v1h-1zM249 705h1v14h-1zM259 689h1v24h-1zM268 698h1v5h-1zM278 689h1v5h-1zM287 670h1v21h-1zM296 682h1v7h-1zM324 858h1v24h-1zM334 862h1v11h-1zM343 858h1v28h-1zM357 982h1v14h-1zM362 959h1v22h-1zM367 929h1v29h-1zM390 975h1v27h-1zM399 1002h1v22h-1zM404 960h1v41h-1zM423 997h1v26h-1zM437 971h1v36h-1zM442 953h1v16h-1zM451 930h1v36h-1zM470 947h1v5h-1zM493 1119h1v2h-1zM521 1322h1v44h-1zM531 1367h1v4h-1zM535 1335h1v31h-1zM540 1270h1v64h-1zM545 1235h1v34h-1zM564 1246h1v27h-1zM568 1242h1v3h-1zM573 1232h1v9h-1zM596 1294h1v72h-1zM606 1224h1v105h-1zM629 1351h1v100h-1zM639 1361h1v2h-1zM648 1343h1v44h-1zM653 1337h1v5h-1zM657 1316h1v20h-1zM662 1278h1v37h-1zM676 1297h1v19h-1zM690 1379h1v48h-1zM695 1337h1v41h-1zM718 1390h1v62h-1zM728 1390h1v63h-1zM732 1379h1v10h-1zM737 1337h1v41h-1zM746 1366h1v4h-1zM751 1355h1v10h-1zM765 1311h1v96h-1zM779 1341h1v5h-1zM784 1311h1v29h-1zM793 1282h1v42h-1zM812 1280h1v21h-1zM817 1216h1v63h-1zM831 1223h1v85h-1zM835 1174h1v48h-1zM845 1159h1v48h-1zM854 1150h1v5h-1zM873 1183h1v10h-1zM887 1224h1v7h-1zM892 1213h1v10h-1zM896 1187h1v25h-1zM901 1175h1v10h-1zM910 1184h1v11h-1zM915 1172h1v11h-1zM929 1164h1v17h-1zM939 1180h1v5h-1zM953 1204h1v7h-1zM971 1225h1v16h-1zM976 1201h1v23h-1zM981 1199h1v1h-1zM990 1194h1v21h-1zM1009 1214h1v7h-1zM1014 1211h1v1h-1zM1023 1207h1v5h-1zM1028 1197h1v8h-1zM1037 1193h1v9h-1zM1042 1176h1v15h-1zM1046 1172h1v3h-1zM1051 1110h1v61h-1zM1056 1108h1v1h-1zM1070 1109h1v17h-1zM1089 1123h1v41h-1zM1093 1095h1v27h-1zM1098 979h1v115h-1zM1103 959h1v18h-1zM1126 976h1v42h-1zM1150 1051h1v32h-1zM1159 1008h1v76h-1zM1164 937h1v70h-1zM1173 959h1v22h-1zM1187 1019h1v71h-1zM1196 1019h1v47h-1zM1211 1131h1v44h-1zM1215 1120h1v10h-1zM1220 1100h1v19h-1zM1229 1112h1v7h-1zM1248 1149h1v12h-1zM1253 1132h1v16h-1zM1262 1121h1v12h-1zM1271 1065h1v79h-1zM1286 1129h1v37h-1zM1300 1171h1v17h-1zM1304 1152h1v18h-1zM1309 1146h1v5h-1zM1328 1150h1v32h-1zM1337 1152h1v16h-1zM1346 1134h1v24h-1zM1365 1170h1v14h-1zM1375 1178h1v5h-1zM1389 1221h1v10h-1zM1393 1163h1v57h-1zM1421 1355h1v64h-1zM1440 1368h1v47h-1zM1445 1357h1v10h-1zM1459 1349h1v9h-1zM1464 1322h1v26h-1zM1478 1350h1v14h-1zM1482 1331h1v18h-1zM1487 1305h1v25h-1zM1506 1368h1v26h-1zM1525 1514h1v29h-1zM1529 1503h1v10h-1zM1534 1449h1v53h-1zM1543 1433h1v22h-1zM1553 1399h1v51h-1zM1562 1395h1v6h-1zM1567 1381h1v13h-1zM1576 1369h1v26h-1zM1590 1331h1v55h-1zM1595 1320h1v10h-1zM1604 1290h1v27h-1zM1609 1249h1v40h-1zM1614 1240h1v8h-1zM1618 1172h1v67h-1zM1628 1083h1v87h-1zM1632 1081h1v1h-1zM1637 1061h1v19h-1zM1656 1133h1v10h-1zM1661 1093h1v39h-1zM1679 1126h1v1h-1zM1684 1101h1v24h-1zM1693 1102h1v9h-1zM1703 1091h1v16h-1zM1707 1065h1v25h-1zM1717 1064h1v15h-1zM1722 1061h1v2h-1zM1726 1040h1v20h-1zM1740 1058h1v4h-1zM1750 1071h1v7h-1zM1754 1065h1v5h-1zM1759 1041h1v23h-1zM1764 1031h1v8h-1zM1792 1095h1v13h-1zM1797 1090h1v4h-1zM1829 1115h1v14h-1zM1848 1121h1v53h-1zM1862 1107h1v42h-1zM1867 1102h1v4h-1zM1872 1085h1v16h-1zM1881 1088h1v3h-1zM1890 1121h1v14h-1zM1900 893h1v229h-1zM1914 921h1v21h-1zM1918 850h1v70h-1zM1928 823h1v52h-1zM1933 817h1v5h-1zM1937 809h1v7h-1zM1947 779h1v37h-1zM1951 674h1v104h-1zM1970 694h1v17h-1zM1975 674h1v19h-1zM1989 602h1v90h-1zM2017 716h1v27h-1zM2026 722h1v26h-1zM2031 709h1v12h-1zM2036 696h1v12h-1zM2045 706h1v5h-1zM2054 690h1v52h-1zM2059 437h1v252h-1zM2068 661h1v87h-1zM2073 545h1v115h-1zM2083 542h1v11h-1zM2087 533h1v8h-1zM2101 562h1v43h-1zM2106 519h1v42h-1zM2115 478h1v65h-1zM2134 499h1v30h-1zM2148 511h1v20h-1zM2153 471h1v39h-1zM2158 429h1v41h-1zM2162 407h1v20h-1zM2176 436h1v39h-1zM2181 426h1v9h-1zM2186 418h1v7h-1zM2190 400h1v17h-1zM2214 422h1v28h-1zM2223 431h1v13h-1zM2228 406h1v24h-1zM2237 448h1v16h-1zM2247 483h1v9h-1zM2256 487h1v18h-1zM2261 466h1v20h-1zM2270 499h1v1h-1zM2279 504h1v40h-1zM2289 512h1v13h-1zM2293 449h1v62h-1zM2317 535h1v13h-1zM2322 517h1v17h-1zM2326 467h1v49h-1zM2340 378h1v120h-1zM2354 427h1v25h-1zM2359 392h1v34h-1zM2364 378h1v13h-1zM2383 408h1v10h-1zM2397 366h1v70h-1zM2401 335h1v30h-1zM2406 293h1v41h-1zM2411 285h1v7h-1zM2420 271h1v25h-1zM2444 334h1v29h-1zM2458 330h1v16h-1zM2472 340h1v7h-1zM2481 345h1v1h-1zM2486 337h1v7h-1zM2504 363h1v16h-1zM2514 352h1v24h-1zM2528 375h1v10h-1zM2533 368h1v6h-1zM2542 360h1v6h-1zM2551 348h1v14h-1zM2556 341h1v6h-1zM2570 369h1v2h-1zM2579 359h1v8h-1zM2589 338h1v23h-1zM2598 339h1v2h-1zM2603 333h1v5h-1zM2622 330h1v26h-1zM2626 305h1v24h-1zM2640 318h1v6h-1zM2645 311h1v5h-1zM2654 286h1v37h-1zM2664 236h1v50h-1zM2673 233h1v17h-1zM2678 225h1v7h-1zM2687 262h1v29h-1zM2692 249h1v12h-1zM2715 336h1v12h-1zM2744 477h1v6h-1zM2753 452h1v24h-1zM2762 422h1v57h-1zM2772 420h1v5h-1zM2790 457h1v49h-1zM2800 472h1v9h-1zM2804 458h1v13h-1zM2809 447h1v10h-1zM2833 502h1v30h-1zM2837 487h1v14h-1zM2851 450h1v78h-1zM2865 482h1v48h-1zM2870 477h1v4h-1zM2875 462h1v14h-1zM2879 456h1v5h-1zM2889 430h1v23h-1zM2903 479h1v24h-1zM2917 498h1v17h-1zM2950 605h1v1h-1zM2959 554h1v51h-1zM2983 655h1v43h-1zM2987 598h1v56h-1zM2992 572h1v24h-1zM3001 599h1v7h-1z" fill="#000"/></g><rect x="8" y="114" width="2994" height="3" fill="#ffeb3b" shape-rendering="crispEdges"/><rect x="8" y="352" width="2994" height="3" fill="#ffeb3b" shape-rendering="crispEdges"/><rect x="8" y="655" width="2994" height="3" fill="#ffeb3b" shape-rendering="crispEdges"/><rect x="8" y="1037" width="2994" height="3" fill="#ffeb3b" shape-rendering="crispEdges"/><rect x="8" y="1429" width="2994" height="3" fill="#ffeb3b" shape-rendering="crispEdges"/><rect x="8" y="1705" width="2994" height="3" fill="#ffeb3b" shape-rendering="crispEdges"/><g clip-path="url(#cp)" stroke="#f23645" stroke-width="3" fill="none" stroke-dasharray="15 18"><path d="M5 464.8787575150301L3005 186.1212424849699"/><path d="M5 410.29163662581107L2988 518.0409516943043"/></g><defs><clipPath id="cp"><rect x="8" y="3" width="2994" height="1760"/></clipPath></defs><rect x="8" y="1585" width="2994" height="178" fill="#7c45e0" fill-opacity="0.26" shape-rendering="crispEdges"/><g shape-rendering="crispEdges"><rect x="8" y="1585" width="4" height="120" fill="#2b3558"/><rect x="8" y="1708" width="4" height="55" fill="#2b3558"/><rect x="12" y="1704" width="2990" height="1" fill="#140838"/><rect x="12" y="1708" width="2990" height="1" fill="#140838"/></g><text x="3015.7" y="69.3" font-size="18" fill="#bcc0ca" textLength="70.4" lengthAdjust="spacingAndGlyphs" stroke="#bcc0ca" stroke-width="0.3">70,400.0</text><text x="3015.7" y="123.5" font-size="18" fill="#bcc0ca" textLength="70.4" lengthAdjust="spacingAndGlyphs" stroke="#bcc0ca" stroke-width="0.3">70,000.0</text><text x="3015.7" y="177.6" font-size="18" fill="#bcc0ca" textLength="70.4" lengthAdjust="spacingAndGlyphs" stroke="#bcc0ca" stroke-width="0.3">69,600.0</text><text x="3015.7" y="231.8" font-size="18" fill="#bcc0ca" textLength="70.4" lengthAdjust="spacingAndGlyphs" stroke="#bcc0ca" stroke-width="0.3">69,200.0</text><text x="3015.7" y="285.9" font-size="18" fill="#bcc0ca" textLength="70.4" lengthAdjust="spacingAndGlyphs" stroke="#bcc0ca" stroke-width="0.3">68,800.0</text><text x="3015.7" y="340.1" font-size="18" fill="#bcc0ca" textLength="70.4" lengthAdjust="spacingAndGlyphs" stroke="#bcc0ca" stroke-width="0.3">68,400.0</text><text x="3015.7" y="394.3" font-size="18" fill="#bcc0ca" textLength="70.4" lengthAdjust="spacingAndGlyphs" stroke="#bcc0ca" stroke-width="0.3">68,000.0</text><text x="3015.7" y="448.4" font-size="18" fill="#bcc0ca" textLength="70.4" lengthAdjust="spacingAndGlyphs" stroke="#bcc0ca" stroke-width="0.3">67,600.0</text><text x="3015.7" y="502.6" font-size="18" fill="#bcc0ca" textLength="70.4" lengthAdjust="spacingAndGlyphs" stroke="#bcc0ca" stroke-width="0.3">67,200.0</text><text x="3015.7" y="556.8" font-size="18" fill="#bcc0ca" textLength="70.4" lengthAdjust="spacingAndGlyphs" stroke="#bcc0ca" stroke-width="0.3">66,800.0</text><text x="3015.7" y="610.9" font-size="18" fill="#bcc0ca" textLength="70.4" lengthAdjust="spacingAndGlyphs" stroke="#bcc0ca" stroke-width="0.3">66,400.0</text><text x="3015.7" y="665.1" font-size="18" fill="#bcc0ca" textLength="70.4" lengthAdjust="spacingAndGlyphs" stroke="#bcc0ca" stroke-width="0.3">66,000.0</text><text x="3015.7" y="719.2" font-size="18" fill="#bcc0ca" textLength="70.4" lengthAdjust="spacingAndGlyphs" stroke="#bcc0ca" stroke-width="0.3">65,600.0</text><text x="3015.7" y="773.4" font-size="18" fill="#bcc0ca" textLength="70.4" lengthAdjust="spacingAndGlyphs" stroke="#bcc0ca" stroke-width="0.3">65,200.0</text><text x="3015.7" y="827.6" font-size="18" fill="#bcc0ca" textLength="70.4" lengthAdjust="spacingAndGlyphs" stroke="#bcc0ca" stroke-width="0.3">64,800.0</text><text x="3015.7" y="881.7" font-size="18" fill="#bcc0ca" textLength="70.4" lengthAdjust="spacingAndGlyphs" stroke="#bcc0ca" stroke-width="0.3">64,400.0</text><text x="3015.7" y="935.9" font-size="18" fill="#bcc0ca" textLength="70.4" lengthAdjust="spacingAndGlyphs" stroke="#bcc0ca" stroke-width="0.3">64,000.0</text><text x="3015.7" y="990.0" font-size="18" fill="#bcc0ca" textLength="70.4" lengthAdjust="spacingAndGlyphs" stroke="#bcc0ca" stroke-width="0.3">63,600.0</text><text x="3015.7" y="1044.2" font-size="18" fill="#bcc0ca" textLength="70.4" lengthAdjust="spacingAndGlyphs" stroke="#bcc0ca" stroke-width="0.3">63,200.0</text><text x="3015.7" y="1098.4" font-size="18" fill="#bcc0ca" textLength="70.4" lengthAdjust="spacingAndGlyphs" stroke="#bcc0ca" stroke-width="0.3">62,800.0</text><text x="3015.7" y="1152.5" font-size="18" fill="#bcc0ca" textLength="70.4" lengthAdjust="spacingAndGlyphs" stroke="#bcc0ca" stroke-width="0.3">62,400.0</text><text x="3015.7" y="1206.7" font-size="18" fill="#bcc0ca" textLength="70.4" lengthAdjust="spacingAndGlyphs" stroke="#bcc0ca" stroke-width="0.3">62,000.0</text><text x="3015.7" y="1260.8" font-size="18" fill="#bcc0ca" textLength="70.4" lengthAdjust="spacingAndGlyphs" stroke="#bcc0ca" stroke-width="0.3">61,600.0</text><text x="3015.7" y="1315.0" font-size="18" fill="#bcc0ca" textLength="70.4" lengthAdjust="spacingAndGlyphs" stroke="#bcc0ca" stroke-width="0.3">61,200.0</text><text x="3015.7" y="1369.2" font-size="18" fill="#bcc0ca" textLength="70.4" lengthAdjust="spacingAndGlyphs" stroke="#bcc0ca" stroke-width="0.3">60,800.0</text><text x="3015.7" y="1423.3" font-size="18" fill="#bcc0ca" textLength="70.4" lengthAdjust="spacingAndGlyphs" stroke="#bcc0ca" stroke-width="0.3">60,400.0</text><text x="3015.7" y="1477.5" font-size="18" fill="#bcc0ca" textLength="70.4" lengthAdjust="spacingAndGlyphs" stroke="#bcc0ca" stroke-width="0.3">60,000.0</text><text x="3015.7" y="1531.7" font-size="18" fill="#bcc0ca" textLength="70.4" lengthAdjust="spacingAndGlyphs" stroke="#bcc0ca" stroke-width="0.3">59,600.0</text><text x="3015.7" y="1585.8" font-size="18" fill="#bcc0ca" textLength="70.4" lengthAdjust="spacingAndGlyphs" stroke="#bcc0ca" stroke-width="0.3">59,200.0</text><text x="3015.7" y="1640.0" font-size="18" fill="#bcc0ca" textLength="70.4" lengthAdjust="spacingAndGlyphs" stroke="#bcc0ca" stroke-width="0.3">58,800.0</text><text x="3015.7" y="1694.1" font-size="18" fill="#bcc0ca" textLength="70.4" lengthAdjust="spacingAndGlyphs" stroke="#bcc0ca" stroke-width="0.3">58,400.0</text><text x="3015.7" y="1748.3" font-size="18" fill="#bcc0ca" textLength="70.4" lengthAdjust="spacingAndGlyphs" stroke="#bcc0ca" stroke-width="0.3">58,000.0</text><path d="M3003 102h87a3 3 0 0 1 3 3v21a3 3 0 0 1 -3 3h-87z" fill="#ffeb3b"/><text x="3015.7" y="121.0" font-size="18" fill="#000" textLength="70.4" lengthAdjust="spacingAndGlyphs" stroke="#000" stroke-width="0.25">70,022.2</text><path d="M3003 340h87a3 3 0 0 1 3 3v21a3 3 0 0 1 -3 3h-87z" fill="#ffeb3b"/><text x="3015.7" y="359.0" font-size="18" fill="#000" textLength="70.4" lengthAdjust="spacingAndGlyphs" stroke="#000" stroke-width="0.25">68,258.2</text><path d="M3003 643h87a3 3 0 0 1 3 3v21a3 3 0 0 1 -3 3h-87z" fill="#ffeb3b"/><text x="3015.7" y="662.0" font-size="18" fill="#000" textLength="70.4" lengthAdjust="spacingAndGlyphs" stroke="#000" stroke-width="0.25">66,020.7</text><path d="M3003 1025h87a3 3 0 0 1 3 3v21a3 3 0 0 1 -3 3h-87z" fill="#ffeb3b"/><text x="3015.7" y="1044.0" font-size="18" fill="#000" textLength="70.4" lengthAdjust="spacingAndGlyphs" stroke="#000" stroke-width="0.25">63,203.6</text><path d="M3003 1417h87a3 3 0 0 1 3 3v21a3 3 0 0 1 -3 3h-87z" fill="#ffeb3b"/><text x="3015.7" y="1436.0" font-size="18" fill="#000" textLength="70.4" lengthAdjust="spacingAndGlyphs" stroke="#000" stroke-width="0.25">60,305.2</text><path d="M3003 1693h87a3 3 0 0 1 3 3v21a3 3 0 0 1 -3 3h-87z" fill="#ffeb3b"/><text x="3015.7" y="1712.0" font-size="18" fill="#000" textLength="70.4" lengthAdjust="spacingAndGlyphs" stroke="#000" stroke-width="0.25">58,269.2</text><path d="M3003 133h87a3 3 0 0 1 3 3v42a3 3 0 0 1 -3 3h-87z" fill="#089981"/><rect x="2903" y="133" width="99" height="27" rx="3" fill="#089981"/><rect x="2990" y="133" width="12" height="27" fill="#089981"/><text x="2908.3" y="152.9" font-size="17.5" fill="#fff" textLength="88.5" lengthAdjust="spacingAndGlyphs" stroke="#fff" stroke-width="0.25">BTCUSDT.P</text><text x="3015.7" y="152.1" font-size="18" fill="#fff" textLength="70.4" lengthAdjust="spacingAndGlyphs" stroke="#fff" stroke-width="0.25">69,793.2</text><text x="3015.7" y="172.9" font-size="18" fill="#d3e4e1" textLength="45.5" lengthAdjust="spacingAndGlyphs">47:18</text><path d="M3003.7 584.5h86a3 3 0 0 1 3 3v20a3 3 0 0 1 -3 3h-86z" fill="#000" stroke="#10a88c" stroke-width="1.4"/><text x="3015.7" y="603.1" font-size="18" fill="#14b495" textLength="70.4" lengthAdjust="spacingAndGlyphs">66,460.3</text><defs><pattern id="dots" width="2" height="2" patternUnits="userSpaceOnUse"><rect width="2" height="2" fill="#0b1022"/><rect width="1" height="1" fill="#30333b"/></pattern></defs><rect x="3008.5" y="6.5" width="86" height="37" rx="5" fill="url(#dots)" stroke="#3f4146" stroke-width="1"/><path d="M3093 3h5v5a5 5 0 0 0 -5 -5z" fill="#1642bf"/><text x="3013" y="31.2" font-size="17.5" fill="#d1d4dc" textLength="43" lengthAdjust="spacingAndGlyphs">USDT</text><path d="M3080 23l4.2 4 4.2-4" fill="none" stroke="#d1d4dc" stroke-width="1.8"/><polygon points="3063.0,1784.5 3057.5,1794.0 3046.5,1794.0 3041.0,1784.5 3046.5,1775.0 3057.5,1775.0" fill="none" stroke="#d1d4dc" stroke-width="1.5"/><circle cx="3052" cy="1784.5" r="3.5" fill="none" stroke="#d1d4dc" stroke-width="1.5"/><text x="188.8" y="1791" font-size="18" fill="#c5c8d0" text-anchor="middle" letter-spacing="0.6" stroke="#c5c8d0" stroke-width="0.25">29</text><text x="413.7" y="1791" font-size="18" fill="#c5c8d0" text-anchor="middle" font-weight="bold" letter-spacing="0.6" stroke="#c5c8d0" stroke-width="0.25">Oct</text><text x="638.3" y="1791" font-size="18" fill="#c5c8d0" text-anchor="middle" letter-spacing="0.6" stroke="#c5c8d0" stroke-width="0.25">3</text><text x="863.3" y="1791" font-size="18" fill="#c5c8d0" text-anchor="middle" letter-spacing="0.6" stroke="#c5c8d0" stroke-width="0.25">5</text><text x="1088.8999999999999" y="1791" font-size="18" fill="#c5c8d0" text-anchor="middle" letter-spacing="0.6" stroke="#c5c8d0" stroke-width="0.25">7</text><text x="1314.3" y="1791" font-size="18" fill="#c5c8d0" text-anchor="middle" letter-spacing="0.6" stroke="#c5c8d0" stroke-width="0.25">9</text><text x="1538.3" y="1791" font-size="18" fill="#c5c8d0" text-anchor="middle" letter-spacing="0.6" stroke="#c5c8d0" stroke-width="0.25">11</text><text x="1707.8999999999999" y="1791" font-size="18" fill="#c5c8d0" text-anchor="middle" letter-spacing="0.6" stroke="#c5c8d0" stroke-width="0.25">12:00</text><text x="1876.3" y="1791" font-size="18" fill="#c5c8d0" text-anchor="middle" letter-spacing="0.6" stroke="#c5c8d0" stroke-width="0.25">14</text><text x="2101.3" y="1791" font-size="18" fill="#c5c8d0" text-anchor="middle" letter-spacing="0.6" stroke="#c5c8d0" stroke-width="0.25">16</text><text x="2326.3" y="1791" font-size="18" fill="#c5c8d0" text-anchor="middle" letter-spacing="0.6" stroke="#c5c8d0" stroke-width="0.25">18</text><text x="2495.3" y="1791" font-size="18" fill="#c5c8d0" text-anchor="middle" letter-spacing="0.6" stroke="#c5c8d0" stroke-width="0.25">12:00</text><text x="2663.3" y="1791" font-size="18" fill="#c5c8d0" text-anchor="middle" letter-spacing="0.6" stroke="#c5c8d0" stroke-width="0.25">21</text><text x="2888.7000000000003" y="1791" font-size="18" fill="#c5c8d0" text-anchor="middle" letter-spacing="0.6" stroke="#c5c8d0" stroke-width="0.25">23</text><text x="16.9" y="33" font-size="24" fill="#d1d4dc" textLength="76.2" lengthAdjust="spacingAndGlyphs" stroke="#d1d4dc" stroke-width="0.35">Bitcoin</text><text x="102.1" y="33" font-size="24" fill="#d1d4dc" textLength="8.2" lengthAdjust="spacingAndGlyphs" stroke="#d1d4dc" stroke-width="0.35">/</text><text x="119.3" y="33" font-size="24" fill="#d1d4dc" textLength="96.5" lengthAdjust="spacingAndGlyphs" stroke="#d1d4dc" stroke-width="0.35">TetherUS</text><text x="222.8" y="33" font-size="24" fill="#d1d4dc" textLength="122.1" lengthAdjust="spacingAndGlyphs" stroke="#d1d4dc" stroke-width="0.35">PERPETUAL</text><text x="350.5" y="33" font-size="24" fill="#d1d4dc" textLength="116.7" lengthAdjust="spacingAndGlyphs" stroke="#d1d4dc" stroke-width="0.35">CONTRACT</text><text x="499.4" y="33" font-size="24" fill="#d1d4dc" textLength="12.0" lengthAdjust="spacingAndGlyphs" stroke="#d1d4dc" stroke-width="0.35">h</text><text x="528.4" y="33" font-size="24" fill="#d1d4dc" textLength="93.6" lengthAdjust="spacingAndGlyphs" stroke="#d1d4dc" stroke-width="0.35">BINANCE</text><path d="M497.9 15.9V32.9H495.2V19.6L489.6 22.9L488.4 20.7L495.6 15.9Z" fill="#d1d4dc"/><circle cx="476.2" cy="24.6" r="2.1" fill="#d1d4dc"/><circle cx="520" cy="24.6" r="2.1" fill="#d1d4dc"/><circle cx="657" cy="24" r="13.3" fill="#0f1428"/><circle cx="657" cy="24" r="6" fill="#089981"/><rect x="19.5" y="45.5" width="45" height="30" rx="4" fill="none" stroke="#4a4d57" stroke-width="1"/><path d="M28.5 57.5l6 5.5 6-5.5" fill="none" stroke="#d1d4dc" stroke-width="1.8"/><path d="M56 53.1V67.1H53.6V56.2L50 58.3L49.1 56.3L54.2 53.1Z" fill="#d1d4dc"/><g shape-rendering="crispEdges"><rect x="0" y="0" width="3102" height="3" fill="#1642bf"/><rect x="0" y="1802" width="3102" height="3" fill="#1642bf"/><rect x="0" y="0" width="2" height="1805" fill="#0c1120"/><rect x="2" y="0" width="3" height="1805" fill="#2b3658"/><rect x="5" y="0" width="3" height="1805" fill="#1642bf"/><rect x="3098" y="0" width="3" height="1805" fill="#1642bf"/><rect x="3101" y="0" width="1" height="1805" fill="#0c1120"/><rect x="0" y="403" width="2" height="162" fill="#6b1520"/></g></svg></body></html>
